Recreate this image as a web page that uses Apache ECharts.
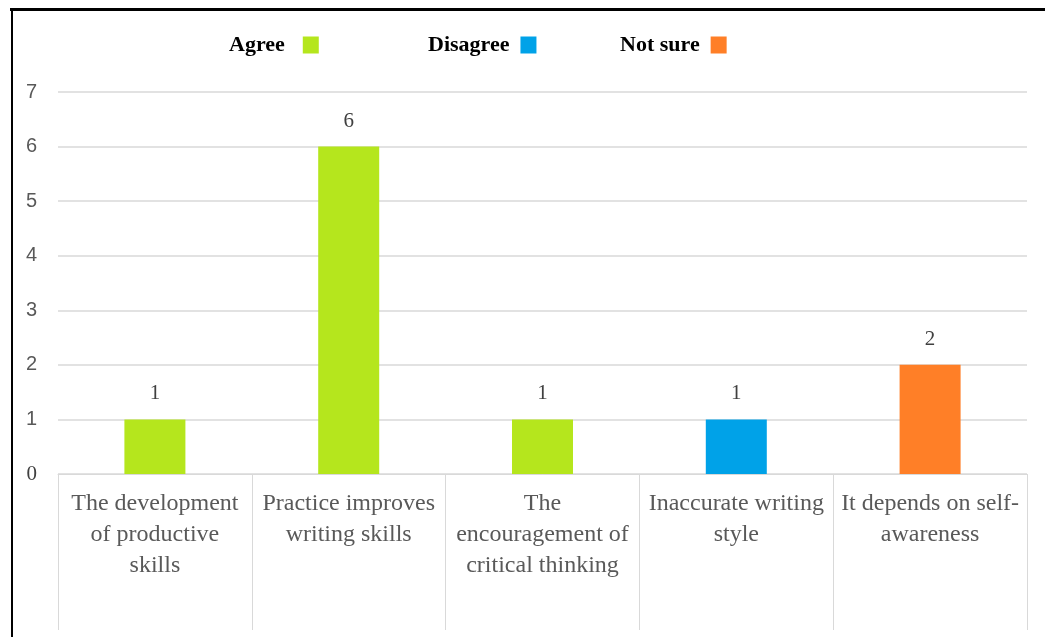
<!DOCTYPE html>
<html>
<head>
<meta charset="utf-8">
<script src="https://cdn.jsdelivr.net/npm/echarts@6/dist/echarts.min.js"></script>
<style>
  html, body { margin: 0; padding: 0; background: #ffffff; }
  #chart { width: 1045px; height: 637px; }
</style>
</head>
<body>
<div id="chart"></div>
<script>
// Survey responses per statement
const categories = [
  'The development\nof productive\nskills',
  'Practice improves\nwriting skills',
  'The\nencouragement of\ncritical thinking',
  'Inaccurate writing\nstyle',
  'It depends on self-\nawareness'
];
const agreeValues    = [1, 6, 1, null, null];
const disagreeValues = [null, null, null, 1, null];
const notSureValues  = [null, null, null, null, 2];
const yTicks = [0, 1, 2, 3, 4, 5, 6, 7];

const colors = { agree: '#B5E61D', disagree: '#00A2E8', notSure: '#FF7F27' };
const serif = '"Liberation Serif", "Times New Roman", serif';

const chart = echarts.init(document.getElementById('chart'));

function legendAt(name, left, gapRight) {
  return {
    data: [name],
    left: left,
    top: 29,
    align: 'right',
    icon: 'rect',
    itemWidth: 16,
    itemHeight: 17,
    itemGap: 0,
    selectedMode: false,
    textStyle: { fontFamily: serif, fontWeight: 'bold', fontSize: 22, color: '#000000', padding: [0, gapRight, 0, 0] }
  };
}

function barSeries(name, data, color) {
  return {
    name: name,
    type: 'bar',
    stack: 'all',
    data: data,
    barWidth: 61,
    itemStyle: { color: color },
    label: {
      show: true,
      position: 'top',
      distance: 15,
      fontFamily: serif,
      fontSize: 21,
      color: '#404040',
      formatter: p => (p.value == null ? '' : p.value)
    }
  };
}

chart.setOption({
  animation: false,
  legend: [
    legendAt('Agree', 224, 13),
    legendAt('Disagree', 423, 6),
    legendAt('Not sure', 615, 6)
  ],
  grid: { left: 58, right: 18, top: 92, bottom: 163, containLabel: false },
  xAxis: {
    type: 'category',
    data: categories,
    axisLine: { lineStyle: { color: '#d9d9d9', width: 1 } },
    axisTick: { show: true, length: 156, lineStyle: { color: '#d9d9d9', width: 1 } },
    axisLabel: {
      interval: 0,
      margin: 14,
      fontFamily: serif,
      fontSize: 24,
      lineHeight: 31,
      color: '#595959',
      align: 'center'
    }
  },
  yAxis: {
    type: 'value',
    min: yTicks[0],
    max: yTicks[yTicks.length - 1],
    interval: 1,
    axisLine: { show: false },
    axisTick: { show: false },
    splitLine: { lineStyle: { color: '#d9d9d9', width: 1.5 } },
    axisLabel: {
      margin: 21,
      fontFamily: '"Liberation Sans", Arial, sans-serif',
      fontSize: 20,
      color: '#595959',
      formatter: v => (v === 0 ? '{z|0}' : String(v)),
      rich: { z: { fontFamily: serif, fontSize: 21, color: '#404040' } }
    }
  },
  series: [
    barSeries('Agree', agreeValues, colors.agree),
    barSeries('Disagree', disagreeValues, colors.disagree),
    barSeries('Not sure', notSureValues, colors.notSure)
  ],
  graphic: [
    { type: 'line', shape: { x1: 10, y1: 9.5, x2: 1045, y2: 9.5 }, style: { stroke: '#000000', lineWidth: 3 } },
    { type: 'line', shape: { x1: 12, y1: 8, x2: 12, y2: 637 }, style: { stroke: '#000000', lineWidth: 2 } }
  ]
});
</script>
</body>
</html>
